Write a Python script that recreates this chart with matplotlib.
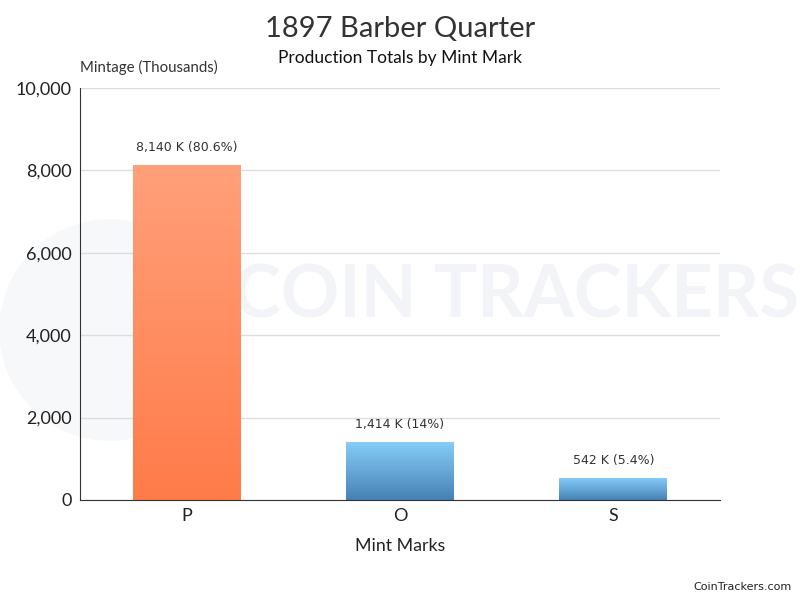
import matplotlib.pyplot as plt
import matplotlib.colors as mcolors
from matplotlib.patches import Ellipse
import numpy as np

# Data
mint_marks = ['P', 'O', 'S']
mintage = [8140, 1414, 542]  # in thousands
labels = ['8,140 K (80.6%)', '1,414 K (14%)', '542 K (5.4%)']
bar_colors = [('#ff7b4a', '#ffa07a'), ('#4682b4', '#87cefa'), ('#4682b4', '#87cefa')]

plt.rcParams['font.family'] = ['Lato', 'DejaVu Sans']

fig = plt.figure(figsize=(8, 6), dpi=100)
ax = fig.add_axes([0.1, 0.1667, 0.8, 0.6867])
ax.set_zorder(2)

# faint watermark behind the chart
fig.text(0.645, 0.505, 'COIN TRACKERS', fontsize=52, fontweight='bold', color='#f3f4f7',
         ha='center', va='center', zorder=0)
fig.patches.append(Ellipse((0.1375, 0.45), 0.275, 0.367, transform=fig.transFigure,
                           color='#f7f8fa', zorder=0))

width = 0.506
for i, (val, lab, (c0, c1)) in enumerate(zip(mintage, labels, bar_colors)):
    bar = ax.bar(i, val, width=width, color='none', zorder=2)[0]
    cmap = mcolors.LinearSegmentedColormap.from_list('g', [c0, c1])
    grad = np.linspace(0, 1, 256).reshape(-1, 1)
    im = ax.imshow(grad, cmap=cmap, origin='lower', aspect='auto',
                   extent=[i - width / 2, i + width / 2, 0, val], zorder=2)
    im.set_clip_path(bar)
    ax.text(i, val + 260, lab, ha='center', va='bottom', fontsize=9,
            family=['DejaVu Sans'], color='#333333')

ax.set_xlim(-0.5, 2.5)
ax.set_ylim(0, 10000)
ax.set_xticks(range(len(mint_marks)))
ax.set_xticklabels(mint_marks, fontsize=13, color='#222222')
ax.set_yticks(range(0, 10001, 2000))
ax.set_yticklabels(['{:,}'.format(v) for v in range(0, 10001, 2000)], fontsize=13, color='#222222')
ax.tick_params(length=0, pad=6)
ax.grid(axis='y', color='#dddddd', linewidth=1, zorder=0)
ax.set_axisbelow(True)
ax.patch.set_alpha(0)
for s in ['top', 'right']:
    ax.spines[s].set_visible(False)
ax.spines['left'].set_color('#333333')
ax.spines['bottom'].set_color('#333333')
ax.set_xlabel('Mint Marks', fontsize=12.8, color='#222222', labelpad=10)

fig.text(0.5, 0.952, '1897 Barber Quarter', ha='center', va='center', fontsize=21, color='#333333')
fig.text(0.5, 0.903, 'Production Totals by Mint Mark', ha='center', va='center', fontsize=12.5, color='#111111')
fig.text(0.1, 0.887, 'Mintage (Thousands)', ha='left', va='center', fontsize=10.8, color='#333333')
fig.text(0.99, 0.022, 'CoinTrackers.com', ha='right', va='center', fontsize=8,
         family=['DejaVu Sans'], color='#222222')

fig.savefig('out.png', dpi=100)
